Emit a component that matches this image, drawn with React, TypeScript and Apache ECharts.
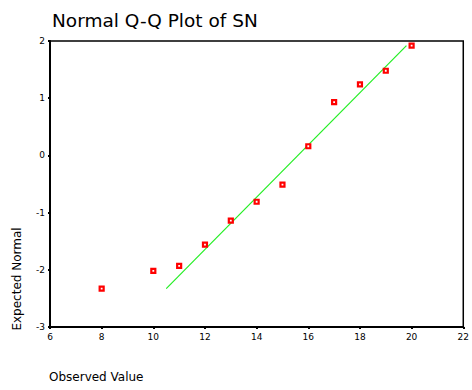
import React, { useEffect, useRef } from "react";
import * as echarts from "echarts";

const observed = [8, 10, 11, 12, 13, 14, 15, 16, 17, 18, 19, 20];
const expected = [-2.33, -2.02, -1.93, -1.56, -1.14, -0.81, -0.51, 0.16, 0.93, 1.24, 1.48, 1.92];
const lineX = [10.5, 19.8];
const lineY = [-2.33, 1.92];

const FONT = "DejaVu Sans";

export default function App() {
  const ref = useRef<HTMLDivElement>(null);
  useEffect(() => {
    const chart = echarts.init(ref.current!, null, { renderer: "svg" });
    chart.setOption({
      animation: false,
      backgroundColor: "#ffffff",
      grid: { left: 50, right: 5, top: 41, bottom: 63, show: true, borderColor: "#000", borderWidth: 1.5 },
      title: {
        text: "Normal Q-Q Plot of SN",
        left: 47,
        top: 6,
        textStyle: { fontFamily: FONT, fontSize: 18.5, fontWeight: "normal", color: "#000" },
      },
      xAxis: {
        type: "value",
        min: 6,
        max: 22,
        interval: 2,
        axisLine: { show: true, onZero: false, lineStyle: { color: "#000", width: 2 } },
        axisTick: { show: true, length: 2, lineStyle: { color: "#000", width: 2 } },
        axisLabel: { fontFamily: FONT, fontSize: 9, color: "#000", margin: 5 },
        splitLine: { show: false },
      },
      yAxis: {
        type: "value",
        min: -3,
        max: 2,
        interval: 1,
        axisLine: { show: true, onZero: false, lineStyle: { color: "#000", width: 2 } },
        axisTick: { show: true, length: 2, lineStyle: { color: "#000", width: 2 } },
        axisLabel: { fontFamily: FONT, fontSize: 9, color: "#000", margin: 5 },
        splitLine: { show: false },
      },
      graphic: [
        {
          type: "text",
          x: 17,
          y: 279,
          rotation: Math.PI / 2,
          style: { text: "Expected Normal", fontFamily: FONT, fontSize: 12, fill: "#000", align: "center", verticalAlign: "middle" },
        },
        {
          type: "text",
          x: 49,
          y: 377,
          style: { text: "Observed Value", fontFamily: FONT, fontSize: 12, fill: "#000", align: "left", verticalAlign: "middle" },
        },
      ],
      series: [
        {
          type: "line",
          data: lineX.map((x, i) => [x, lineY[i]]),
          showSymbol: false,
          lineStyle: { color: "#22ee22", width: 1.2 },
          z: 2,
        },
        {
          type: "scatter",
          data: observed.map((x, i) => [x, expected[i]]),
          symbol: "rect",
          symbolSize: 4,
          itemStyle: { color: "#ffffff", borderColor: "#ff0000", borderWidth: 2.2, opacity: 1 },
          z: 3,
        },
      ],
    });
    return () => chart.dispose();
  }, []);
  return <div ref={ref} style={{ width: 472, height: 390, position: "absolute", left: 0, top: 0 }} />;
}
